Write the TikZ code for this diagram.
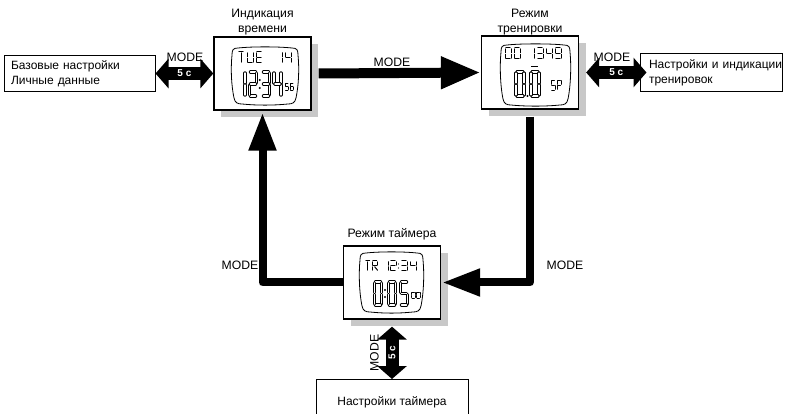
\documentclass[tikz,border=0pt]{standalone}
\usepackage{fontspec}
\setmainfont{Liberation Sans}
\usetikzlibrary{arrows.meta,calc}

\definecolor{shadowgray}{RGB}{200,200,200}

\tikzset{
  lbl/.style={font=\fontsize{12.2}{15}\selectfont, inner sep=0pt, align=center},
  watch/.style={draw, fill=white, line width=1.3pt, minimum width=97pt, minimum height=73pt, inner sep=0pt},
  shadowbox/.style={fill=shadowgray},
  setbox/.style={draw, line width=1pt, font=\fontsize{12}{15}\selectfont},
  bigarrow/.style={line width=10pt, -{Triangle[length=40pt,width=30pt]}},
  medarrow/.style={line width=8pt, line join=round, -{Triangle[length=38pt,width=26pt]}},
  dblarrow/.style={line width=13pt, {Triangle[length=13pt,width=29pt]}-{Triangle[length=13pt,width=29pt]}},
  fivesec/.style={text=white, font=\bfseries\fontsize{10}{10}\selectfont, inner sep=0pt},
  lcdthin/.style={line width=1pt, line cap=round},
  lcdtiny/.style={line width=0.7pt, line cap=round},
  lcdbig/.style={line width=1pt, double=white, double distance=1.5pt, line cap=round},
}

% seven-segment pieces (cell origin top-left, y downwards)
\def\lcdsega[#1]{\draw[#1] ({\sg},0) -- ({\sw-\sg},0);}
\def\lcdsegb[#1]{\draw[#1] ({\sw},{\sg}) -- ({\sw},{\sh/2-\sg});}
\def\lcdsegc[#1]{\draw[#1] ({\sw},{\sh/2+\sg}) -- ({\sw},{\sh-\sg});}
\def\lcdsegd[#1]{\draw[#1] ({\sg},{\sh}) -- ({\sw-\sg},{\sh});}
\def\lcdsege[#1]{\draw[#1] (0,{\sh/2+\sg}) -- (0,{\sh-\sg});}
\def\lcdsegf[#1]{\draw[#1] (0,{\sg}) -- (0,{\sh/2-\sg});}
\def\lcdsegg[#1]{\draw[#1] ({\sg},{\sh/2}) -- ({\sw-\sg},{\sh/2});}
\def\lcdsegt[#1]{\draw[#1] ({\sw/2},{\sg}) -- ({\sw/2},{\sh-\sg});}
\def\lcdsegr[#1]{\draw[#1] ({\sw/2},{\sh/2+\sg}) -- ({\sw},{\sh-\sg});}

\newcommand\segchar[6][lcdthin]{%
  \begin{scope}[shift={(#2,#3)}]
    \def\sw{#4}\def\sh{#5}%
    \pgfmathsetmacro\sg{0.15*#4}%
    \foreach \s in {#6}{\csname lcdseg\s\endcsname[#1]}%
  \end{scope}}

\newcommand\lcdframe[4]{%
  \draw[line width=0.8pt]
   ({#1+6},#2) .. controls ({#1+20},{#2-1.5}) and ({#3-20},{#2-1.5}) .. ({#3-6},#2)
   .. controls ({#3-1},#2) and (#3,{#2+2}) .. (#3,{#2+7})
   .. controls ({#3+1.5},{#2+22}) and ({#3+0.5},{#4-18}) .. ({#3-2},{#4-6})
   .. controls ({#3-3},{#4-1}) and ({#3-6},#4) .. ({#3-10},#4)
   .. controls ({#3-25},{#4+1.5}) and ({#1+25},{#4+1.5}) .. ({#1+10},#4)
   .. controls ({#1+6},#4) and ({#1+3},{#4-1}) .. ({#1+2},{#4-6})
   .. controls ({#1-0.5},{#4-18}) and ({#1-1.5},{#2+22}) .. (#1,{#2+7})
   .. controls (#1,{#2+2}) and ({#1+1},#2) .. cycle;}

\begin{document}
\begin{tikzpicture}[x=1pt,y=-1pt]
\useasboundingbox (0,0) rectangle (785,414);

% setting boxes
\node[setbox, text width=137pt, inner xsep=7pt, minimum height=36pt, align=left] (lb) at (79.5,73.5) {Базовые настройки\\Личные данные};
\node[setbox, text width=124pt, inner xsep=9pt, minimum height=38pt, align=left] (rb) at (711,73) {\mbox{Настройки и индикации}\\тренировок};
\node[setbox, anchor=north, minimum width=152pt, minimum height=46pt] (bb) at (392,379) {Настройки таймера};

% shadows
\fill[shadowbox] (221,44) rectangle (318,117);
\fill[shadowbox] (488.5,43) rectangle (585.5,116);
\fill[shadowbox] (350.5,253) rectangle (447.5,326);

% watches
\node[watch] (tw) at (262.5,73.5) {};
\node[watch] (tr) at (530,72.5) {};
\node[watch] (tm) at (392,282.5) {};

% titles
\node[lbl] (ltw) at (262.5,22) {Индикация\\времени};
\node[lbl] (ltr) at (530,22) {Режим\\тренировки};
\node[lbl] (ltm) at (392,234.5) {Режим таймера};

% ---- display: time
\lcdframe{232}{48}{298}{104}
\segchar{238}{52}{6}{11}{a,t}
\segchar{247}{52}{6}{11}{b,c,d,e,f}
\segchar{256}{52}{6}{11}{a,d,e,f,g}
\segchar{277}{52}{5}{11}{b,c}
\segchar{285}{52}{6}{11}{b,c,f,g}
\segchar[lcdbig]{238}{72}{7}{24}{b,c}
\segchar[lcdbig]{249.5}{72}{7}{24}{a,b,d,e,g}
\fill (259.8,80) circle (1.1pt) (259.8,88) circle (1.1pt);
\segchar[lcdbig]{262.5}{72}{7}{24}{a,b,c,d,g}
\segchar[lcdbig]{274}{72}{7}{24}{b,c,f,g}
\segchar[lcdtiny]{285}{83}{3.5}{7}{a,c,d,f,g}
\segchar[lcdtiny]{290}{83}{3.5}{7}{a,c,d,e,f,g}

% ---- display: training
\lcdframe{501}{45}{570}{105}
\segchar{505}{48}{6}{11}{a,b,c,d,e,f}
\segchar{514}{48}{6}{11}{a,b,c,d,e,f}
\segchar{529}{48}{5}{11}{b,c}
\segchar{537}{48}{6}{11}{a,b,c,d,g}
\segchar{546}{48}{6}{11}{b,c,f,g}
\segchar{555}{48}{6}{11}{a,b,c,d,f,g}
\draw[line width=0.8pt] (531,66) -- (538,66);
\segchar[lcdbig]{516}{72}{8}{24}{a,b,c,d,e,f}
\fill (527.5,96) circle (1.2pt);
\segchar[lcdbig]{531}{72}{8}{24}{a,b,c,d,e,f}
\segchar[lcdtiny]{551}{80}{4}{10}{a,c,d,f,g}
\segchar[lcdtiny]{557}{80}{4}{10}{a,b,e,f,g}

% ---- display: timer
\lcdframe{360}{253}{423}{312}
\segchar{365}{261}{5.5}{10}{a,t}
\segchar{372}{261}{5.5}{10}{a,b,e,f,g,r}
\segchar{383}{261}{5}{10}{b,c}
\segchar{390}{261}{6}{10}{a,b,d,e,g}
\fill (398.5,264) circle (0.7pt) (398.5,268) circle (0.7pt);
\segchar{401}{261}{6}{10}{a,b,c,d,g}
\segchar{410}{261}{6}{10}{b,c,f,g}
\segchar[lcdbig]{374.5}{282}{7}{23}{a,b,c,d,e,f}
\fill (385,290) circle (1.1pt) (385,297) circle (1.1pt);
\segchar[lcdbig]{388.5}{282}{7}{23}{a,b,c,d,e,f}
\segchar[lcdbig]{400.5}{282}{7}{23}{a,c,d,f,g}
\segchar[lcdtiny]{411.5}{292}{3.5}{6}{a,b,c,d,e,f}
\segchar[lcdtiny]{416.5}{292}{3.5}{6}{a,b,c,d,e,f}

% ---- main connectors
\draw[bigarrow] ([xshift=7pt]tw.east) -- (tr.west);
\node[lbl] (m1) at (392,62) {MODE};
\draw[medarrow] ([yshift=-7pt]tr.south) |- ([xshift=1pt]tm.east);
\draw[medarrow] (tm.west) -| ([yshift=-2pt]tw.south);
\node[lbl] (m2) at (565,265) {MODE};
\node[lbl] (m3) at (240,265) {MODE};

% ---- long-press connectors
\draw[dblarrow] (lb.east) -- (lb.east -| tw.west) node[fivesec, midway] (f1) {5 с};
\node[lbl] (m4) at (185,57) {MODE};
\draw[dblarrow] ([xshift=7pt]tr.east) -- ([xshift=7pt]tr.east -| rb.west) node[fivesec, midway] (f2) {5 с};
\node[lbl] (m5) at (612,57) {MODE};
\draw[dblarrow] ([yshift=-7pt]tm.south) -- (bb.north) node[fivesec, midway, rotate=90] (f3) {5 с};
\node[lbl, rotate=90] (m6) at (374.5,353) {MODE};
\end{tikzpicture}
\end{document}
